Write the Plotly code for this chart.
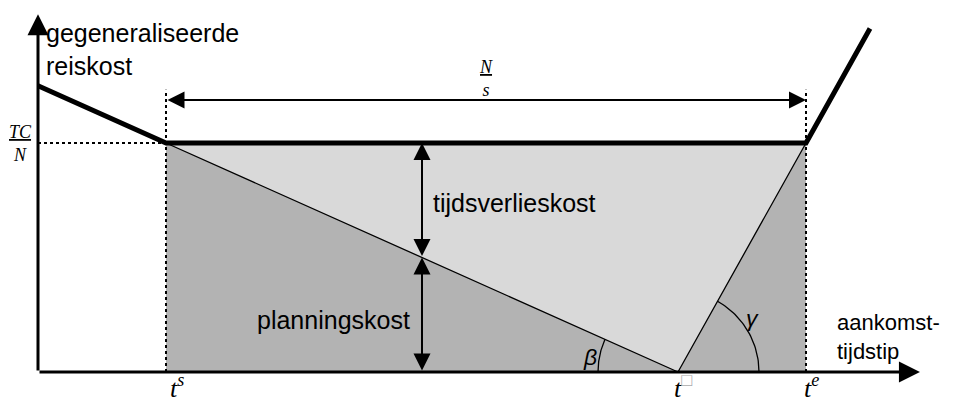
import numpy as np
import plotly.graph_objects as go

# tijdstippen en kostniveaus (willekeurige eenheden)
t_s = 2.0        # begin van de spits
t_star = 10.0    # gewenst aankomsttijdstip
t_e = 12.0       # einde van de spits
tc_n = 4.0       # TC/N
t_curve = [0.0, 2.0, 12.0, 13.0]      # gegeneraliseerde reiskost
c_curve = [5.0, 4.0, 4.0, 6.0]
t_axis_end = 13.78
c_axis_end = 6.25
n_s_level = 4.75

# de pagina heeft 8px marge, dus de figuur is iets kleiner dan het venster
W, H = 961, 395
xr = [-30 / 64, (W - 30) / 64]
yr = [-31 / 57.25, (H - 31) / 57.25]
sx = W / (xr[1] - xr[0])
sy = H / (yr[1] - yr[0])

serif = "Liberation Serif"
sans = "Liberation Sans"

fig = go.Figure()

# donkergrijs: planningskost
fig.add_trace(go.Scatter(x=[t_s, t_s, t_e, t_e], y=[tc_n, 0, 0, tc_n], fill="toself",
                         fillcolor="#b3b3b3", line=dict(width=0), mode="lines", hoverinfo="skip"))
# lichtgrijs: tijdsverlieskost
fig.add_trace(go.Scatter(x=[t_s, t_e, t_star], y=[tc_n, tc_n, 0], fill="toself",
                         fillcolor="#d9d9d9", line=dict(width=0), mode="lines", hoverinfo="skip"))
# dunne lijnen
fig.add_trace(go.Scatter(x=[t_s, t_star, t_e], y=[tc_n, 0, tc_n], mode="lines",
                         line=dict(color="black", width=1.3), hoverinfo="skip"))
# hoekbogen
r = 80
a_b = np.arctan2(tc_n * sy, (t_s - t_star) * sx)
th = np.linspace(a_b, np.pi, 40)
fig.add_trace(go.Scatter(x=t_star + r * np.cos(th) / sx, y=r * np.sin(th) / sy, mode="lines",
                         line=dict(color="black", width=1.3), hoverinfo="skip"))
r2 = 81
a_g = np.arctan2(tc_n * sy, (t_e - t_star) * sx)
th = np.linspace(0, a_g, 40)
fig.add_trace(go.Scatter(x=t_star + r2 * np.cos(th) / sx, y=r2 * np.sin(th) / sy, mode="lines",
                         line=dict(color="black", width=1.3), hoverinfo="skip"))
# stippellijnen
for xv in [t_s, t_e]:
    fig.add_trace(go.Scatter(x=[xv, xv], y=[0, 4.93], mode="lines",
                             line=dict(color="black", width=2, dash="dot"), hoverinfo="skip"))
fig.add_trace(go.Scatter(x=[0, t_s], y=[tc_n, tc_n], mode="lines",
                         line=dict(color="black", width=2, dash="dot"), hoverinfo="skip"))
# kostencurve
fig.add_trace(go.Scatter(x=t_curve, y=c_curve, mode="lines",
                         line=dict(color="black", width=5), hoverinfo="skip"))


def arrow(x0, y0, x1, y1, both=False, width=2.5, size=1.3):
    fig.add_annotation(x=x1, y=y1, ax=x0, ay=y0, xref="x", yref="y", axref="x", ayref="y",
                       showarrow=True, arrowhead=2, arrowsize=size, arrowwidth=width,
                       arrowcolor="black", arrowside="end+start" if both else "end", text="")


# assen
arrow(0, 0, t_axis_end, 0, width=3, size=1.4)
arrow(0, 0, 0, c_axis_end, width=3, size=1.4)
# N/s pijl
arrow(t_s, n_s_level, t_e, n_s_level, both=True, width=2, size=1.7)
# verticale pijlen
xm = 6.0
ym = tc_n - (tc_n / (t_star - t_s)) * (xm - t_s)
arrow(xm, ym, xm, tc_n, both=True, width=2, size=1.7)
arrow(xm, 0, xm, ym, both=True, width=2, size=1.7)


def label(x, y, text, font, size, xa="center", ya="middle", align="center", color="black"):
    fig.add_annotation(x=x, y=y, xref="x", yref="y", text=text, showarrow=False,
                       xanchor=xa, yanchor=ya, align=align,
                       font=dict(family=font, size=size, color=color))


label(0.09, 6.2, "gegeneraliseerde<br>reiskost", sans, 25, xa="left", ya="top", align="left")
label(12.45, 0.62, "aankomst-<br>tijdstip", sans, 22, xa="left", align="left")
label(6.14, 2.95, "tijdsverlieskost", sans, 25, xa="left")
label(4.61, 0.91, "planningskost", sans, 25)
label(8.62, 0.27, "<i>β</i>", sans, 23)
label(11.16, 0.95, "<i>γ</i>", sans, 23)
label(-0.27, 4.0, "<i><u>TC</u></i><br><i>N</i>", serif, 18)
label(7.0, 5.12, "<i><u>N</u></i><br><i>s</i>", serif, 18)
label(t_s + 0.17, -0.26, "<i>t<sup>s</sup></i>", serif, 26)
label(t_star + 0.08, -0.26, "<i>t</i><sup><span style='color:#aaaaaa'>□</span></sup>", serif, 26)
label(t_e + 0.08, -0.26, "<i>t<sup>e</sup></i>", serif, 26)

fig.update_xaxes(range=xr, visible=False, showgrid=False, zeroline=False)
fig.update_yaxes(range=yr, visible=False, showgrid=False, zeroline=False)
fig.update_layout(width=W, height=H, margin=dict(l=0, r=0, t=0, b=0), showlegend=False,
                  plot_bgcolor="white", paper_bgcolor="white")

fig.write_html("out.html")
